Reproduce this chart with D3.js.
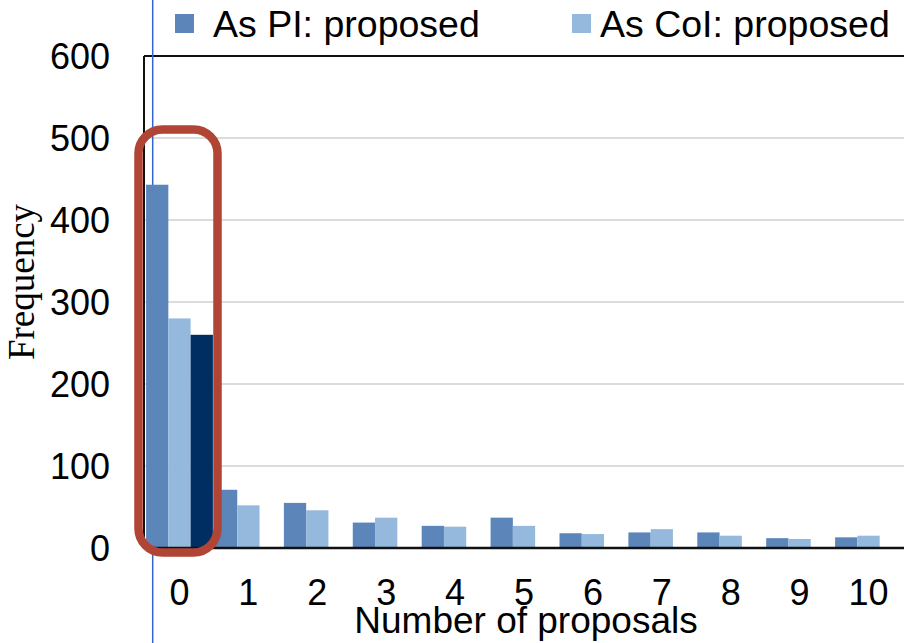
<!DOCTYPE html>
<html lang="en">
<head>
    <meta charset="UTF-8">
    <title>Proposals frequency</title>
    <style>
        body { margin: 0; background: #fff; }
    </style>
</head>
<body>
<script src="https://d3js.org/d3.v7.min.js"></script>
<script>
    // Data
    const categories = ["0", "1", "2", "3", "4", "5", "6", "7", "8", "9", "10"];
    const piValues  = [443, 71, 55, 31, 27, 37, 18, 19, 19, 12, 13];
    const coiValues = [280, 52, 46, 37, 26, 27, 17, 23, 15, 11, 15];
    const highlightValues = [260, 0, 0, 0, 0, 0, 0, 0, 0, 0, 0];
    const seriesNames = ["As PI: proposed", "As CoI: proposed", "highlight"];
    const yTicks = [0, 100, 200, 300, 400, 500, 600];

    const colors = ["#5c86ba", "#95b9dc", "#002d62"];

    const width = 904, height = 643;
    const plot = {left: 144, right: 904, top: 56, bottom: 548};

    const data = categories.map((c, i) => ({
        cat: c,
        values: [piValues[i], coiValues[i], highlightValues[i]]
    }));

    const svg = d3.select("body").append("svg")
        .attr("width", width)
        .attr("height", height);

    // Scales
    const xScale = d3.scaleBand()
        .domain(categories)
        .range([plot.left, plot.right])
        .paddingInner(0.03)
        .paddingOuter(0.03);

    const xInner = d3.scaleBand()
        .domain([0, 1, 2])
        .range([0, xScale.bandwidth()]);

    const yScale = d3.scaleLinear()
        .domain([0, 600])
        .range([plot.bottom, plot.top]);

    // Gridlines
    svg.append("g")
        .selectAll("line")
        .data(yTicks.filter(t => t > 0 && t < 600))
        .enter().append("line")
        .attr("x1", plot.left)
        .attr("x2", plot.right)
        .attr("y1", d => yScale(d))
        .attr("y2", d => yScale(d))
        .attr("stroke", "#d0d0d0")
        .attr("stroke-width", 1.5);

    // Frame: top and left
    svg.append("line")
        .attr("x1", plot.left).attr("x2", plot.right)
        .attr("y1", yScale(600)).attr("y2", yScale(600))
        .attr("stroke", "#111").attr("stroke-width", 2);
    svg.append("line")
        .attr("x1", plot.left).attr("x2", plot.left)
        .attr("y1", yScale(600)).attr("y2", yScale(0))
        .attr("stroke", "#111").attr("stroke-width", 2);

    // thin blue vertical line
    svg.append("line")
        .attr("x1", 152.7).attr("x2", 152.7)
        .attr("y1", 0).attr("y2", height)
        .attr("stroke", "#3366cc").attr("stroke-width", 1.5);

    // Bars
    const groups = svg.append("g")
        .selectAll("g")
        .data(data)
        .enter().append("g")
        .attr("transform", d => "translate(" + xScale(d.cat) + ",0)");

    groups.selectAll("rect")
        .data(d => d.values.map((v, k) => ({k: k, v: v})))
        .enter().append("rect")
        .attr("x", d => xInner(d.k))
        .attr("width", xInner.bandwidth())
        .attr("y", d => yScale(d.v))
        .attr("height", d => yScale(0) - yScale(d.v))
        .attr("fill", d => colors[d.k]);

    // Bottom axis line
    svg.append("line")
        .attr("x1", plot.left).attr("x2", plot.right)
        .attr("y1", yScale(0)).attr("y2", yScale(0))
        .attr("stroke", "#111").attr("stroke-width", 2.5);

    // Y tick labels
    svg.append("g")
        .selectAll("text")
        .data(yTicks)
        .enter().append("text")
        .attr("x", 110)
        .attr("y", d => yScale(d))
        .attr("dy", "0.36em")
        .attr("text-anchor", "end")
        .style("font", "36px 'Liberation Sans', Arial, sans-serif")
        .attr("fill", "#000")
        .text(d => d);

    // X tick labels
    svg.append("g")
        .selectAll("text")
        .data(categories)
        .enter().append("text")
        .attr("x", d => xScale(d) + xScale.bandwidth() / 2)
        .attr("y", 605)
        .attr("text-anchor", "middle")
        .style("font", "36px 'Liberation Sans', Arial, sans-serif")
        .attr("fill", "#000")
        .text(d => d);

    // Axis titles
    svg.append("text")
        .attr("x", 526)
        .attr("y", 633)
        .attr("text-anchor", "middle")
        .style("font", "37px 'Liberation Sans', Arial, sans-serif")
        .text("Number of proposals");

    svg.append("text")
        .attr("transform", "translate(34,282) rotate(-90)")
        .attr("text-anchor", "middle")
        .style("font", "37px 'Liberation Serif', 'Times New Roman', serif")
        .text("Frequency");

    // Red rounded highlight around category 0
    svg.append("rect")
        .attr("x", 138.5)
        .attr("y", 129.5)
        .attr("width", 79)
        .attr("height", 423)
        .attr("rx", 24)
        .attr("ry", 24)
        .attr("fill", "none")
        .attr("stroke", "#b04535")
        .attr("stroke-width", 8.5);

    // Legend (first two series only)
    const legendX = [175, 572];
    const legend = svg.append("g")
        .selectAll("g")
        .data(seriesNames.slice(0, 2))
        .enter().append("g")
        .attr("transform", (d, i) => "translate(" + legendX[i] + ",0)");

    legend.append("rect")
        .attr("x", 0).attr("y", 14)
        .attr("width", 19).attr("height", 19)
        .attr("fill", (d, i) => colors[i]);

    legend.append("text")
        .attr("x", (d, i) => i === 0 ? 38 : 28)
        .attr("y", 37)
        .style("font", "37.5px 'Liberation Sans', Arial, sans-serif")
        .text(d => d);
</script>
</body>
</html>
